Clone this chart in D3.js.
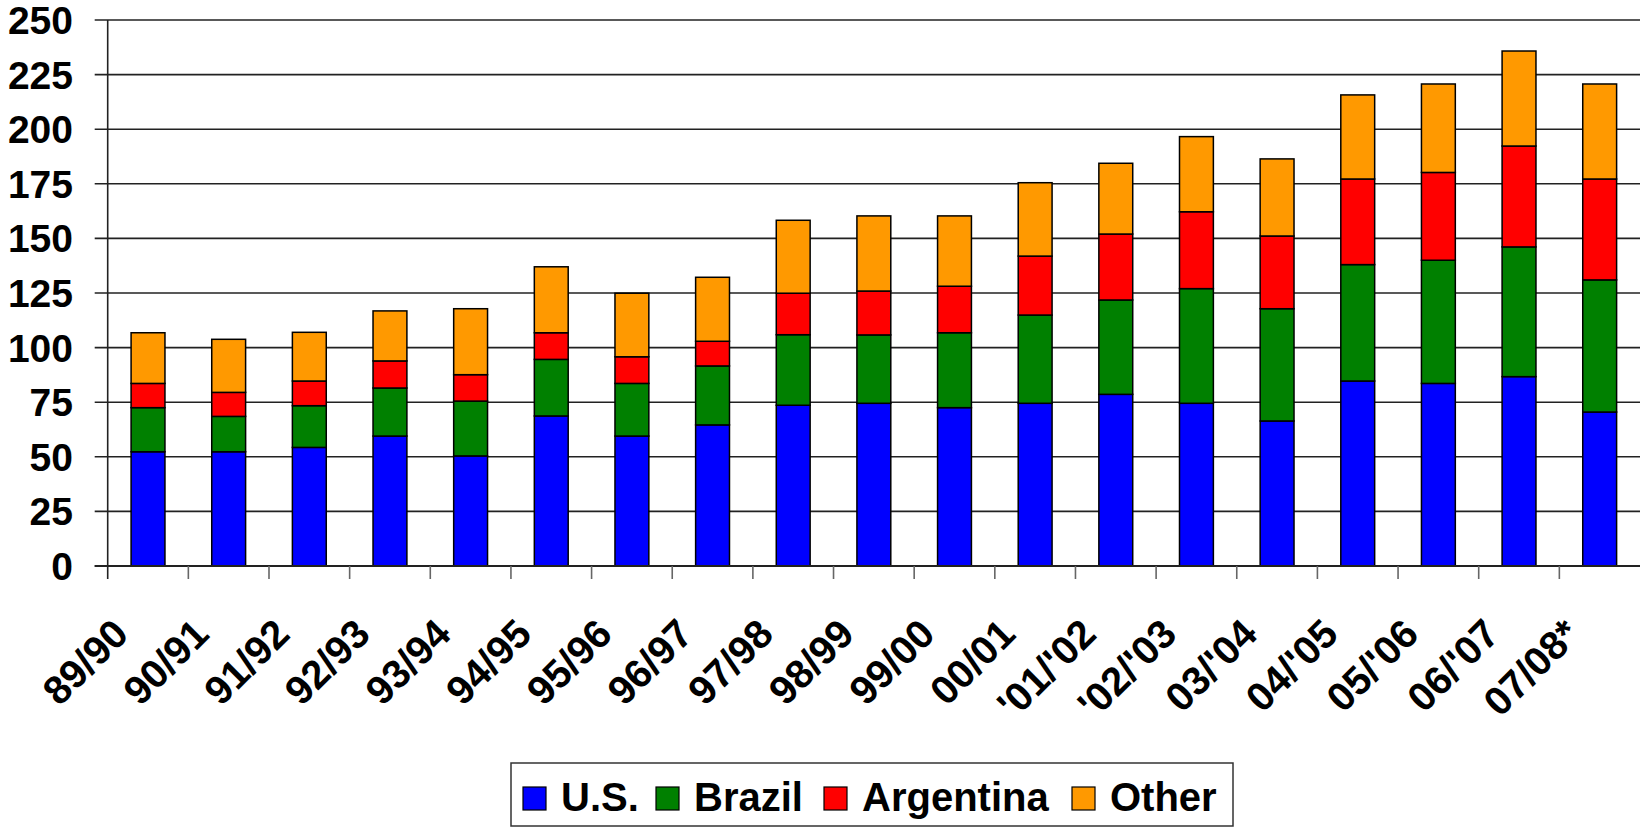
<!DOCTYPE html>
<html><head><meta charset="utf-8">
<script src="https://cdn.jsdelivr.net/npm/d3@7"></script>
<style>
html,body{margin:0;padding:0;background:#fff;}
text{font-family:"Liberation Sans",Arial,Helvetica,sans-serif;font-weight:bold;fill:#000;}
</style></head>
<body><svg id="chart" width="1640" height="828"></svg>
<script>
const categories = ["89/90","90/91","91/92","92/93","93/94","94/95","95/96","96/97","97/98","98/99","99/00","00/01","'01/'02","'02/'03","03/'04","04/'05","05/'06","06/'07","07/08*"];
const seriesNames = ["U.S.","Brazil","Argentina","Other"];
const usValues =        [52.3,52.3,54.3,59.5,50.4,68.7,59.5,64.6,73.6,74.5,72.5,74.5,78.6,74.5,66.4,84.7,83.6,86.7,70.5];
const brazilValues =    [20.2,16.2,19.1,22.0,25.1,25.9,24.1,27.0,32.3,31.3,34.3,40.4,43.2,52.5,51.4,53.3,56.4,59.4,60.5];
const argentinaValues = [11.1,11.0,11.3,12.4,12.1,12.2,12.2,11.3,19.0,20.1,21.3,27.0,30.2,35.2,33.3,39.2,40.2,46.2,46.2];
const otherValues =     [23.2,24.3,22.3,22.9,30.2,30.2,29.1,29.3,33.4,34.4,32.2,33.6,32.4,34.4,35.3,38.5,40.5,43.5,43.5];
const yTicks = [0,25,50,75,100,125,150,175,200,225,250];
const colors = ["#0000ff","#008000","#ff0000","#ff9900"];

(function(){
const svg = d3.select("#chart");
const pl = 107.7, pr = 1640, pt = 20, pb = 566;

const x = d3.scaleBand().domain(categories).range([pl, pr]).padding(0);
const y = d3.scaleLinear().domain([0,250]).range([pb, pt]);

const rows = categories.map((c,i)=>({cat:c,"U.S.":usValues[i],"Brazil":brazilValues[i],"Argentina":argentinaValues[i],"Other":otherValues[i]}));
const stacked = d3.stack().keys(seriesNames)(rows);

svg.append("g").selectAll("line").data(yTicks).join("line")
  .attr("x1", pl-13).attr("x2", pr)
  .attr("y1", d=>y(d)).attr("y2", d=>y(d))
  .attr("stroke", "#222").attr("stroke-width", 1.6);

svg.append("g").selectAll("text").data(yTicks).join("text")
  .attr("x", 73).attr("y", d=>y(d)).attr("dy","0.36em")
  .attr("text-anchor","end").attr("font-size", 39)
  .text(d=>d);

const bw = x.bandwidth()*0.42;
svg.append("g").selectAll("g").data(stacked).join("g")
  .attr("fill", (d,i)=>colors[i])
  .selectAll("rect").data(d=>d).join("rect")
  .attr("x", d=>x(d.data.cat)+x.bandwidth()/2-bw/2)
  .attr("width", bw)
  .attr("y", d=>y(d[1]))
  .attr("height", d=>y(d[0])-y(d[1]))
  .attr("stroke","#000").attr("stroke-width",1.5);

svg.append("line").attr("x1",pl).attr("x2",pl).attr("y1",pt).attr("y2",pb+13)
  .attr("stroke","#222").attr("stroke-width",1.6);
svg.append("line").attr("x1",pl-13).attr("x2",pr).attr("y1",pb).attr("y2",pb)
  .attr("stroke","#222").attr("stroke-width",2);
svg.append("g").selectAll("line").data(categories.slice(1)).join("line")
  .attr("x1", d=>x(d)).attr("x2", d=>x(d))
  .attr("y1", pb).attr("y2", pb+13)
  .attr("stroke","#666").attr("stroke-width",1.6);

svg.append("g").selectAll("text").data(categories).join("text")
  .attr("transform", d=>`translate(${x(d)+x.bandwidth()/2-38},${616}) rotate(-45)`)
  .attr("text-anchor","end").attr("dy","0.72em").attr("font-size", 40)
  .text(d=>d);

const lg = svg.append("g");
lg.append("rect").attr("x",511).attr("y",763).attr("width",722).attr("height",63)
  .attr("fill","#fff").attr("stroke","#333").attr("stroke-width",1.5);
const legendX = [523, 656, 824, 1072];
seriesNames.forEach((n,i)=>{
  lg.append("rect").attr("x",legendX[i]).attr("y",787).attr("width",23).attr("height",23)
    .attr("fill",colors[i]).attr("stroke","#000").attr("stroke-width",1.2);
  lg.append("text").attr("x",legendX[i]+38).attr("y",811).attr("font-size",40).text(n);
});
})();
</script></body></html>
